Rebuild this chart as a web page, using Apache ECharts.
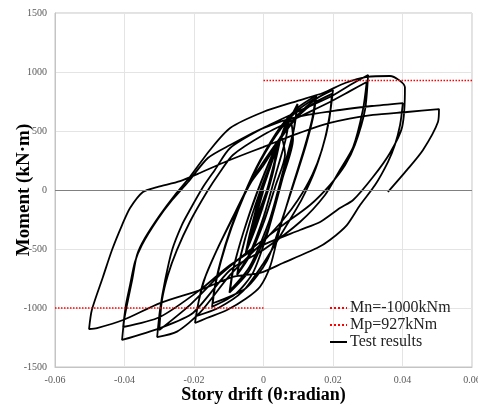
<!DOCTYPE html>
<html>
<head>
<meta charset="utf-8">
<script src="https://cdn.jsdelivr.net/npm/echarts@6/dist/echarts.min.js"></script>
<style>
  html, body { margin: 0; padding: 0; background: #fff; }
  #chart { width: 478px; height: 405px; }
</style>
</head>
<body>
<div id="chart"></div>
<script>
// Hysteresis data: [story drift (rad), moment (kN·m)]
// Cycles go negative first, then positive, with growing drift amplitude.
const cycle0375 = [
  [0, 0], [-0.0020, -210], [-0.0038, -390],
  [-0.0030, -260], [-0.0010, -40], [0.0015, 180], [0.0038, 330],
  [0.0030, 220], [0.0010, 0], [-0.0015, -200], [-0.0038, -395],
  [-0.0030, -270], [-0.0010, -50], [0.0015, 175], [0.0038, 335]
];
const cycle05 = [
  [0.0030, 180], [0.0005, -80], [-0.0025, -320], [-0.0051, -530],
  [-0.0040, -380], [-0.0015, -100], [0.0015, 160], [0.0050, 450],
  [0.0038, 290], [0.0010, -30], [-0.0020, -300], [-0.0050, -525],
  [-0.0038, -370], [-0.0012, -80], [0.0018, 180], [0.0050, 455]
];
const cycle075 = [
  [0.0062, 300], [0.0035, 40], [0.0000, -280], [-0.0040, -560], [-0.0076, -720],
  [-0.0066, -560], [-0.0040, -280], [-0.0005, 30], [0.0035, 330], [0.0075, 610],
  [0.0063, 420], [0.0035, 130], [0.0000, -230], [-0.0040, -540], [-0.0075, -710],
  [-0.0064, -540], [-0.0038, -260], [-0.0003, 40], [0.0037, 340], [0.0075, 620]
];
const cycle10 = [
  [0.0085, 430], [0.0055, 100], [0.0015, -320], [-0.0040, -680], [-0.0098, -870],
  [-0.0088, -680], [-0.0060, -380], [-0.0020, -30], [0.0030, 330], [0.0098, 730],
  [0.0086, 500], [0.0058, 180], [0.0018, -250], [-0.0040, -650], [-0.0096, -850],
  [-0.0086, -660], [-0.0058, -360], [-0.0018, -20], [0.0032, 340], [0.0098, 720]
];
const cycle15 = [
  [0.0088, 520], [0.0068, 250], [0.0040, -60], [0.0010, -380], [-0.0030, -700], [-0.0080, -880], [-0.0148, -990],
  [-0.0142, -850], [-0.0125, -620], [-0.0095, -330], [-0.0055, -30], [-0.0010, 250], [0.0050, 540], [0.0100, 700], [0.0152, 800],
  [0.0143, 620], [0.0122, 380], [0.0090, 80], [0.0050, -280], [0.0010, -600], [-0.0050, -830], [-0.0146, -960],
  [-0.0140, -830], [-0.0122, -600], [-0.0092, -320], [-0.0052, -20], [-0.0008, 250], [0.0050, 520], [0.0100, 680], [0.0150, 780]
];
const cycle20 = [
  [0.0140, 600], [0.0115, 330], [0.0080, 0], [0.0045, -350], [0.0020, -640], [-0.0010, -820], [-0.0050, -920], [-0.0105, -1017], [-0.0163, -1085], [-0.0197, -1127],
  [-0.0191, -1010], [-0.0174, -788], [-0.0134, -508], [-0.0088, -229], [-0.0039, 59], [-0.0010, 195], [0.0050, 450], [0.0100, 640], [0.0150, 770], [0.0200, 848],
  [0.0193, 680], [0.0178, 450], [0.0150, 180], [0.0110, -80], [0.0060, -330], [0.0000, -620], [-0.0060, -860], [-0.0130, -1000], [-0.0194, -1068],
  [-0.0187, -950], [-0.0168, -740], [-0.0128, -470], [-0.0082, -200], [-0.0035, 70], [0.0000, 210], [0.0055, 460], [0.0105, 640], [0.0150, 745], [0.0197, 815]
];
const cycle30 = [
  [0.0189, 593], [0.0168, 339], [0.0140, 127], [0.0099, -85], [0.0056, -254], [-0.0010, -466], [-0.0096, -720], [-0.0183, -1040], [-0.0249, -1200], [-0.0306, -1246],
  [-0.0298, -1017], [-0.0283, -763], [-0.0263, -508], [-0.0235, -297], [-0.0212, -170], [-0.0174, 25], [-0.0140, 170], [-0.0096, 356], [-0.0001, 525], [0.0096, 661], [0.0191, 788], [0.0249, 890], [0.0301, 975],
  [0.0292, 678], [0.0263, 381], [0.0235, 212], [0.0191, 42], [0.0134, -127], [0.0056, -297], [-0.0039, -508], [-0.0125, -720], [-0.0212, -975], [-0.0300, -1187],
  [-0.0292, -932], [-0.0275, -720], [-0.0249, -508], [-0.0212, -271], [-0.0163, -17], [-0.0125, 153], [-0.0088, 297], [-0.0001, 466], [0.0096, 610], [0.0191, 746], [0.0250, 840], [0.0297, 915]
];
const cycle40 = [
  [0.0286, 678], [0.0258, 364], [0.0220, 170], [0.0177, -42], [0.0105, -271], [-0.0001, -508], [-0.0096, -678], [-0.0203, -1042], [-0.0298, -1170], [-0.0407, -1271],
  [-0.0401, -1102], [-0.0390, -932], [-0.0378, -763], [-0.0364, -551], [-0.0341, -407], [-0.0298, -212], [-0.0255, -42], [-0.0212, 110], [-0.0154, 339], [-0.0096, 525], [-0.0001, 661], [0.0096, 754], [0.0171, 822], [0.0235, 907], [0.0298, 958], [0.0364, 966], [0.0407, 870],
  [0.0399, 534], [0.0364, 314], [0.0315, 110], [0.0258, -85], [0.0220, -153], [0.0163, -271], [0.0105, -339], [-0.0001, -466], [-0.0096, -636], [-0.0183, -848], [-0.0298, -1076], [-0.0404, -1161],
  [-0.0396, -975], [-0.0384, -805], [-0.0370, -610], [-0.0350, -466], [-0.0306, -254], [-0.0263, -85], [-0.0217, 68], [-0.0160, 271], [-0.0096, 381], [-0.0001, 525], [0.0096, 619], [0.0220, 678], [0.0312, 712], [0.0401, 737]
];
const cycle50 = [
  [0.0393, 551], [0.0378, 381], [0.0358, 237], [0.0321, 42], [0.0278, -127], [0.0240, -297], [0.0191, -424], [0.0154, -492], [0.0056, -619], [-0.0010, -703], [-0.0088, -737], [-0.0183, -848], [-0.0298, -958], [-0.0404, -1102], [-0.0479, -1170], [-0.0502, -1178],
  [-0.0494, -1017], [-0.0462, -737], [-0.0436, -508], [-0.0407, -297], [-0.0384, -153], [-0.0347, -17], [-0.0306, 25], [-0.0240, 76], [-0.0183, 144], [-0.0125, 220], [-0.0068, 288], [-0.0001, 364], [0.0096, 475], [0.0191, 568], [0.0315, 636], [0.0413, 661], [0.0505, 686],
  [0.0502, 576], [0.0459, 339], [0.0413, 170], [0.0358, -17]
];

// Design moment lines
const mnLine = [[-0.06, -1000], [0, -1000]];
const mpLine = [[0, 927], [0.06, 927]];

const xTickLabels = ['-0.06', '-0.04', '-0.02', '0', '0.02', '0.04', '0.06'];

const testResults = [].concat(cycle0375, cycle05, cycle075, cycle10, cycle15, cycle20, cycle30, cycle40, cycle50);

const serif = '"Liberation Serif", "Times New Roman", serif';

const chart = echarts.init(document.getElementById('chart'));

const options = {
  animation: false,
  grid: {
    left: 55, right: 6, top: 13, bottom: 38,
    outerBoundsMode: 'none',
    show: true, borderColor: '#c4c4c4', borderWidth: 1
  },
  legend: {
    orient: 'vertical',
    left: 324, top: 295,
    itemWidth: 17, itemHeight: 10, itemGap: 1,
    itemStyle: { opacity: 0 },
    textStyle: { fontFamily: serif, fontSize: 16, color: '#222', padding: [0, 0, 0, -2] },
    data: ['Mn=-1000kNm', 'Mp=927kNm', 'Test results']
  },
  xAxis: {
    type: 'value',
    min: -0.06, max: 0.06, interval: 0.02,
    name: 'Story drift (θ:radian)',
    nameLocation: 'middle', nameGap: 19, nameMoveOverlap: false,
    nameTextStyle: { fontFamily: serif, fontSize: 18, fontWeight: 'bold', color: '#000' },
    axisLine: { onZero: false, lineStyle: { color: '#c4c4c4' } },
    axisTick: { show: false },
    axisLabel: {
      fontFamily: serif, fontSize: 10, color: '#595959', margin: 8,
      formatter: (value, index) => xTickLabels[index]
    },
    splitLine: { lineStyle: { color: '#e4e4e4' } }
  },
  yAxis: {
    type: 'value',
    min: -1500, max: 1500, interval: 500,
    name: 'Moment (kN·m)',
    nameLocation: 'middle', nameGap: 21, nameRotate: 90, nameMoveOverlap: false,
    nameTextStyle: { fontFamily: serif, fontSize: 19, fontWeight: 'bold', color: '#000' },
    axisLine: { onZero: false, lineStyle: { color: '#c4c4c4' } },
    axisTick: { show: false },
    axisLabel: {
      fontFamily: serif, fontSize: 10, color: '#595959', margin: 8,
      formatter: value => String(value)
    },
    splitLine: { lineStyle: { color: '#e4e4e4' } }
  },
  series: [
    {
      name: 'Test results',
      type: 'line',
      data: testResults,
      symbol: 'none',
      smooth: 0.25,
      lineStyle: { color: '#000', width: 1.8 },
      itemStyle: { color: '#000' },
      markLine: {
        silent: true,
        symbol: 'none',
        label: { show: false },
        lineStyle: { color: '#808080', width: 1, type: 'solid' },
        data: [{ yAxis: 0 }]
      },
      z: 3
    },
    {
      name: 'Mn=-1000kNm',
      type: 'line',
      data: mnLine,
      symbol: 'none',
      lineStyle: { color: '#ff0000', width: 1.5, type: 'dotted' },
      itemStyle: { color: '#ff0000' },
      z: 4
    },
    {
      name: 'Mp=927kNm',
      type: 'line',
      data: mpLine,
      symbol: 'none',
      lineStyle: { color: '#ff0000', width: 1.5, type: 'dotted' },
      itemStyle: { color: '#ff0000' },
      z: 4
    }
  ]
};

chart.setOption(options);
</script>
</body>
</html>
